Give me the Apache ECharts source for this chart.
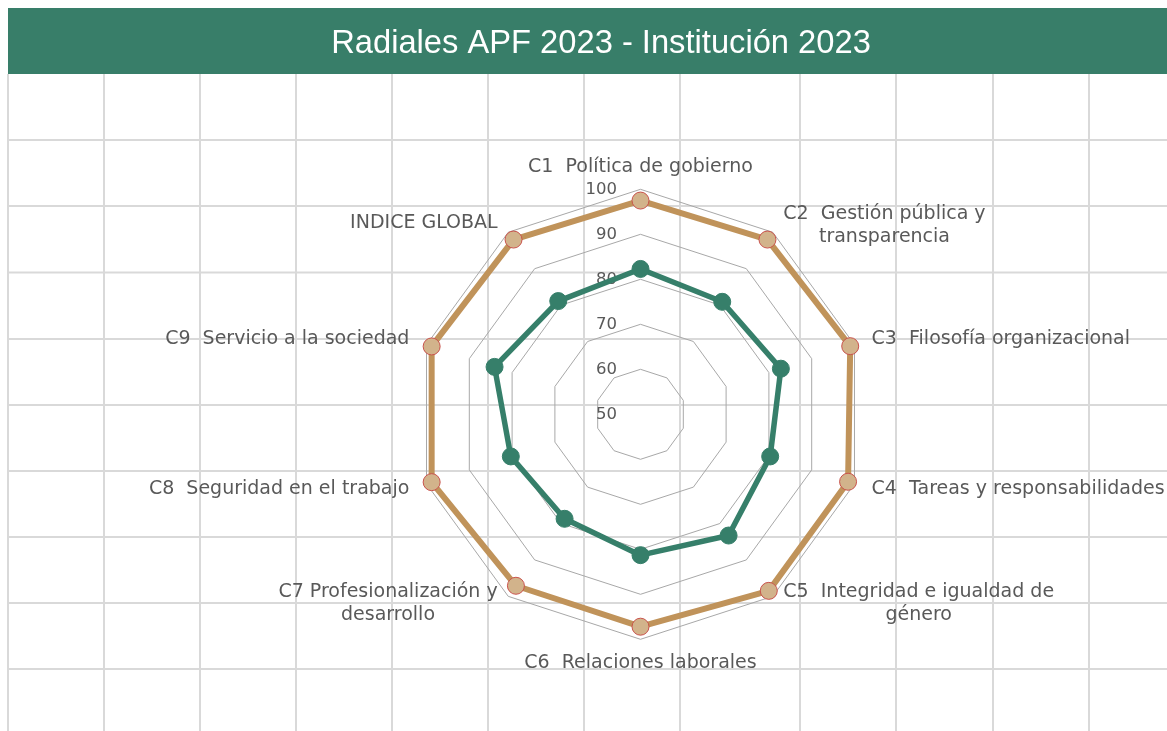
<!DOCTYPE html>
<html>
<head>
<meta charset="utf-8">
<script src="https://cdn.jsdelivr.net/npm/echarts@6/dist/echarts.min.js"></script>
<style>
html,body{margin:0;padding:0;background:#fff;}
#chart{width:1167px;height:731px;}
</style>
</head>
<body>
<div id="chart"></div>
<script>
// ---- data ----
const titleText = 'Radiales APF 2023 - Institución 2023';
const categories = [
  'C1  Política de gobierno',
  'C2  Gestión pública y\ntransparencia',
  'C3  Filosofía organizacional',
  'C4  Tareas y responsabilidades',
  'C5  Integridad e igualdad de\ngénero',
  'C6  Relaciones laborales',
  'C7 Profesionalización y\ndesarrollo',
  'C8  Seguridad en el trabajo',
  'C9  Servicio a la sociedad',
  'INDICE GLOBAL'
];
const apfValues = [97.5, 98.0, 99.0, 98.5, 98.5, 97.2, 97.1, 98.8, 98.8, 98.0];
const institucionValues = [82.3, 80.9, 82.8, 80.3, 83.3, 81.3, 78.7, 80.3, 84.1, 81.1];
const axisMin = 50;
const axisMax = 100;
const tickLabels = ['50', '60', '70', '80', '90', '100'];

// ---- layout / style ----
// per-category name gap and padding (label placement only)
const nameGaps = [12.5, 18, 18, 18, 18, 14, 18, 18, 18, 18];
const namePads = [
  [0,0,0,0], [16,0,0,0], [0,0,0,0], [0,0,0,0], [0,0,15,0],
  [0,0,0,0], [0,0,15,0], [0,0,0,0], [0,0,0,0], [10,0,0,0]
];
// ECharts radar runs counter-clockwise; the reference runs clockwise.
const order = [0].concat(categories.slice(1).map((_, i) => categories.length - 1 - i));
const reorder = arr => order.map(i => arr[i]);

const gridX = [8, 104, 200, 296, 392, 488, 584, 680, 800, 896, 993, 1089];
const gridY = [140, 206, 272.5, 339, 405, 471, 537, 603, 669];
const graphics = [];
graphics.push({type:'rect', shape:{x:8, y:8, width:1159, height:66}, style:{fill:'#387e69'}, z:1});
gridX.forEach(x => graphics.push({type:'line', shape:{x1:x, y1:74, x2:x, y2:731}, style:{stroke:'#d9d9d9', lineWidth:2}, z:0, silent:true}));
gridY.forEach(y => graphics.push({type:'line', shape:{x1:8, y1:y, x2:1167, y2:y}, style:{stroke:'#d9d9d9', lineWidth:2}, z:0, silent:true}));

const nameFont = 'DejaVu Sans';
const nameSize = 19;
const chart = echarts.init(document.getElementById('chart'), null, {renderer:'canvas'});
chart.setOption({
  animation: false,
  backgroundColor: '#ffffff',
  graphic: graphics,
  title: {
    text: titleText,
    left: 596,
    top: 22,
    textAlign: 'center',
    textStyle: {color:'#ffffff', fontSize:32.7, fontWeight:'normal', fontFamily:'Liberation Sans'},
    z: 10
  },
  radar: {
    center: [640.5, 414.3],
    radius: 225,
    startAngle: 90,
    splitNumber: 5,
    shape: 'polygon',
    axisNameGap: 18,
    axisName: {
      color: '#595959',
      fontSize: nameSize,
      fontFamily: nameFont,
      formatter: name => name.indexOf('\n') >= 0
        ? name.split('\n').map(l => '{c|' + l + '}').join('\n')
        : '{s|' + name + '}',
      rich: {
        c: { align:'center', color:'#595959', fontSize:nameSize, fontFamily:nameFont, lineHeight:23 },
        s: { color:'#595959', fontSize:nameSize, fontFamily:nameFont }
      }
    },
    axisLine: {show:false},
    axisTick: {show:false},
    splitLine: {lineStyle:{color:'#a8a8a8', width:1}},
    splitArea: {show:false},
    axisLabel: {show:false},
    indicator: order.map((k, i) => ({
      name: categories[k], min: axisMin, max: axisMax,
      nameGap: nameGaps[k],
      axisNameGap: nameGaps[k],
      nameTextStyle: { padding: namePads[k] },
      axisLabel: i === 0 ? {
        show: true, color:'#595959', fontSize:16.5, fontFamily:nameFont, margin: 23.5,
        formatter: v => tickLabels[Math.round((v - axisMin) / 10)] || ''
      } : {show:false}
    }))
  },
  series: [{
    type: 'radar',
    symbol: 'circle',
    z: 3,
    data: [
      {
        name: 'APF 2023',
        value: reorder(apfValues),
        symbolSize: 17,
        lineStyle: {color:'#c0935a', width:6},
        itemStyle: {color:'#d2b38b', borderColor:'#c9524c', borderWidth:1}
      },
      {
        name: 'Institución 2023',
        value: reorder(institucionValues),
        symbolSize: 17,
        lineStyle: {color:'#367f6a', width:5.5},
        itemStyle: {color:'#367f6a', borderColor:'#367f6a', borderWidth:1}
      }
    ]
  }]
});
</script>
</body>
</html>
